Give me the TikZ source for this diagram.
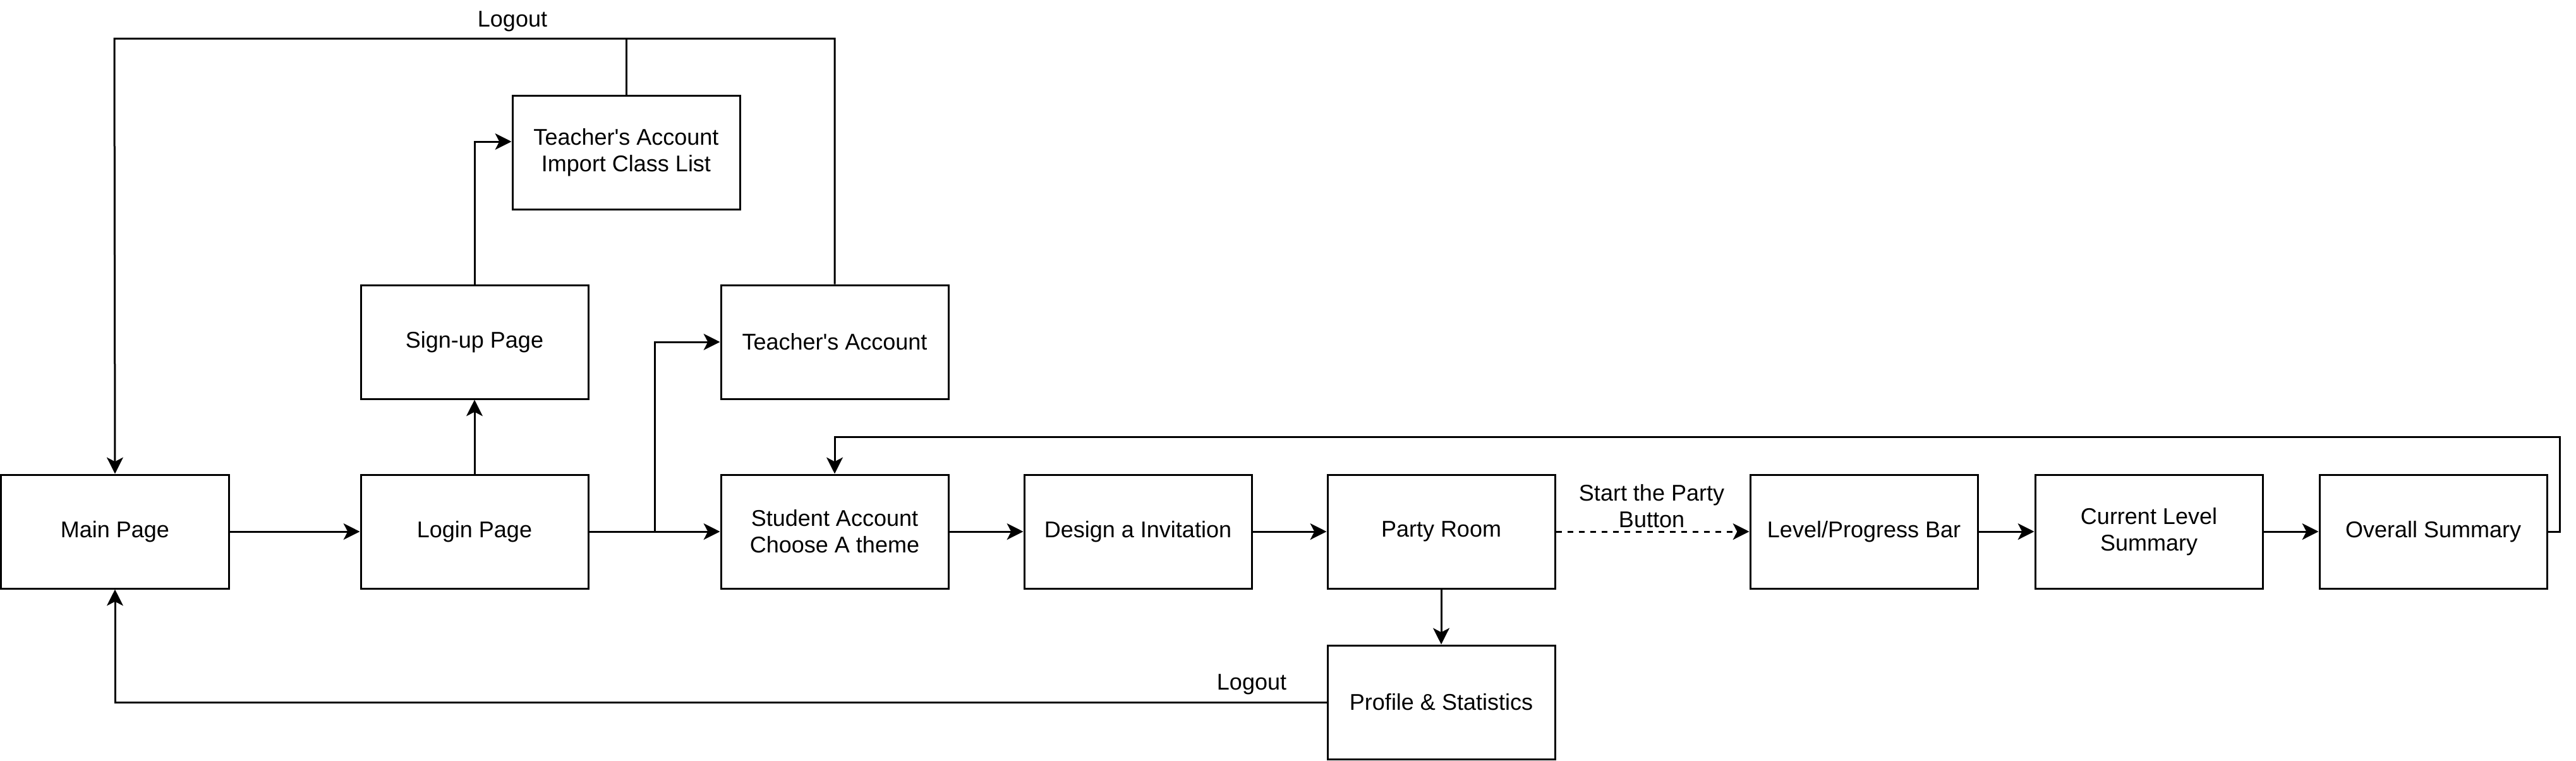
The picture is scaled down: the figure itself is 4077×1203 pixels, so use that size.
\documentclass[tikz,border=0pt]{standalone}
\usepackage{fontspec}
\setmainfont{Liberation Sans}
\newfontfamily\libsans{Liberation Sans}
\usetikzlibrary{arrows.meta}
\begin{document}
\begin{tikzpicture}[x=0.33333pt,y=-0.33333pt,
  box/.style={draw, line width=1pt, minimum width=120pt, minimum height=60pt, inner sep=0pt, align=center, font=\libsans\fontsize{12}{14}\selectfont},
  lbl/.style={inner sep=0pt, align=center, font=\libsans\fontsize{12}{14}\selectfont},
  conn/.style={line width=1pt},
  arr/.style={line width=1pt, -{Stealth[length=8.6pt, width=8.6pt, inset=2.2pt]}}]
\useasboundingbox (0,0) rectangle (4077,1203);
\node[box] (main) at (182,841) {Main Page};
\node[box] (login) at (751,841) {Login Page};
\node[box] (signup) at (751,541) {Sign-up Page};
\node[box] (import) at (991,241) {Teacher's Account\\Import Class List};
\node[box] (teacher) at (1321,541) {Teacher's Account};
\node[box] (student) at (1321,841) {Student Account\\Choose A theme};
\node[box] (design) at (1801,841) {Design a Invitation};
\node[box] (party) at (2281,841) {Party Room};
\node[box] (profile) at (2281,1111) {Profile \& Statistics};
\node[box] (level) at (2950,841) {Level/Progress Bar};
\node[box] (current) at (3401,841) {Current Level\\Summary};
\node[box] (overall) at (3851,841) {Overall Summary};
\coordinate (split) at (1036,841);
\coordinate (topR) at (1321,61);
\coordinate (topL) at (181,61);
\coordinate (loopR) at (4051,691);
\node[lbl] (lgTop) at (811,34) {Logout};
\node[lbl] (lgBot) at (1981,1083) {Logout};
\node[lbl] (start) at (2614,801) {Start the Party\\Button};
% connectors
\draw[arr] (main) -- (login);
\draw[arr] (login) -- (signup);
\draw[arr] (signup.north) |- ([yshift=5.67pt]import.west);
\draw[arr] (login.east) -- (student.west);
\draw[arr] (split) |- (teacher.west);
\draw[arr] (teacher.north) -- (topR) -- (topL) -- (main.north);
\draw[conn] (import.north) -- (import.north |- topR);
\draw[arr] (student) -- (design);
\draw[arr] (design) -- (party);
\draw[arr, dash pattern=on 3pt off 3pt] (party) -- (level);
\draw[arr] (level) -- (current);
\draw[arr] (current) -- (overall);
\draw[arr] (overall.east) -| (loopR) -| (student.north);
\draw[arr] (party) -- (profile);
\draw[arr] (profile.west) -| (main.south);
\end{tikzpicture}
\end{document}
